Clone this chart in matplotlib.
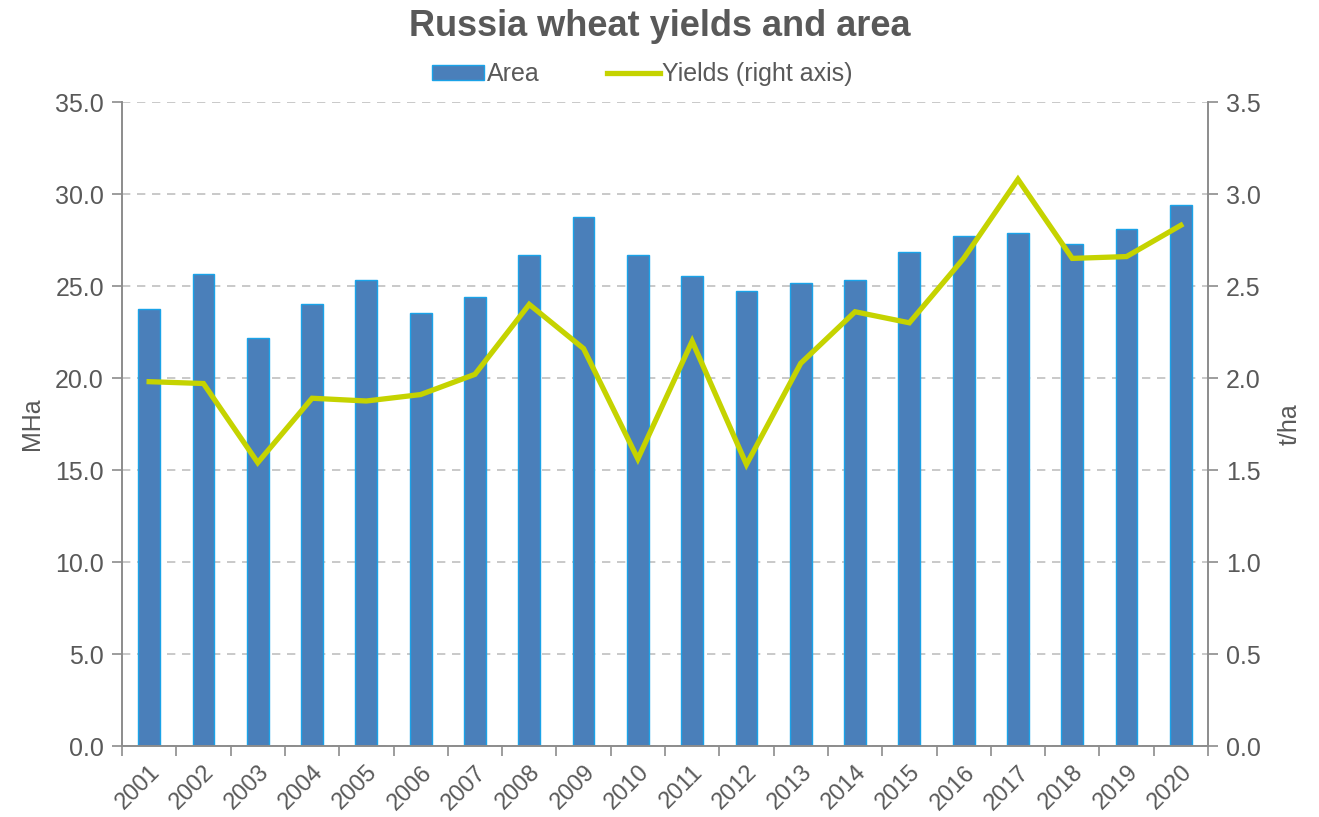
import matplotlib.pyplot as plt

# data
years = [str(y) for y in range(2001, 2021)]
area = [23.75, 25.65, 22.2, 24.0, 25.35, 23.55, 24.4, 26.7, 28.75, 26.7,
        25.55, 24.75, 25.15, 25.35, 26.85, 27.7, 27.9, 27.3, 28.1, 29.4]
yields = [1.98, 1.97, 1.54, 1.89, 1.875, 1.91, 2.02, 2.40, 2.16, 1.56,
          2.20, 1.53, 2.08, 2.36, 2.30, 2.65, 3.08, 2.65, 2.66, 2.83]

grey = '#595959'
axis_grey = '#8c8c8c'
plt.rcParams['font.family'] = ['Liberation Sans', 'DejaVu Sans']

fig = plt.figure(figsize=(13.19, 8.17), dpi=100)
ax = fig.add_axes([122/1319, 71/817, 1086/1319, 644/817])
ax2 = ax.twinx()

x = list(range(len(years)))
bars = ax.bar(x, area, width=0.4, color='#4a7fba', edgecolor='#1aa3e8',
              linewidth=1, label='Area', zorder=2)
line, = ax2.plot(x, yields, color='#c5d300', linewidth=3.8, label='Yields (right axis)',
                 solid_joinstyle='miter', zorder=3)

ax.set_xlim(-0.5, len(years) - 0.5)
ax.set_ylim(0, 35)
ax2.set_ylim(0, 3.5)
ax.set_yticks([i * 5 for i in range(8)])
ax.set_yticklabels([f'{i * 5:.1f}' for i in range(8)])
ax2.set_yticks([i * 0.5 for i in range(8)])
ax2.set_yticklabels([f'{i * 0.5:.1f}' for i in range(8)])

# category labels centered, tick marks at boundaries
ax.set_xticks(x)
ax.set_xticklabels(years, rotation=45, ha='right', rotation_mode='anchor')
ax.set_xticks([i - 0.5 for i in range(len(years) + 1)], minor=True)
ax.tick_params(axis='x', which='major', length=0, pad=11, labelsize=17, labelcolor=grey)
ax.tick_params(axis='x', which='minor', length=7, color=axis_grey, width=1.2)
ax.tick_params(axis='y', length=7, color=axis_grey, width=1.2, labelsize=18, labelcolor=grey, pad=6)
ax2.tick_params(axis='y', length=7, color=axis_grey, width=1.2, labelsize=18, labelcolor=grey, pad=6)

ax.yaxis.grid(True, linestyle=(0, (5, 4)), color='#c0c0c0', linewidth=1.2, zorder=0)
ax.set_axisbelow(True)

for a in (ax, ax2):
    a.spines['top'].set_visible(False)
    for s in ('left', 'right', 'bottom'):
        a.spines[s].set_color(axis_grey)
        a.spines[s].set_linewidth(1.2)

ax.set_ylabel('MHa', fontsize=18, color=grey, labelpad=8)
ax2.set_ylabel('t/ha', fontsize=18, color=grey, labelpad=12, rotation=90)

fig.text(0.5, 0.968, 'Russia wheat yields and area', fontsize=26, fontweight='bold',
         color=grey, ha='center', va='center')
fig.legend(handles=[bars, line], loc='center', bbox_to_anchor=(0.487, 0.909),
           ncol=2, frameon=False, fontsize=18, labelcolor=grey,
           handlelength=2.1, handleheight=0.6, handletextpad=0.1, columnspacing=2.7)

plt.savefig('out.png', dpi=100)
